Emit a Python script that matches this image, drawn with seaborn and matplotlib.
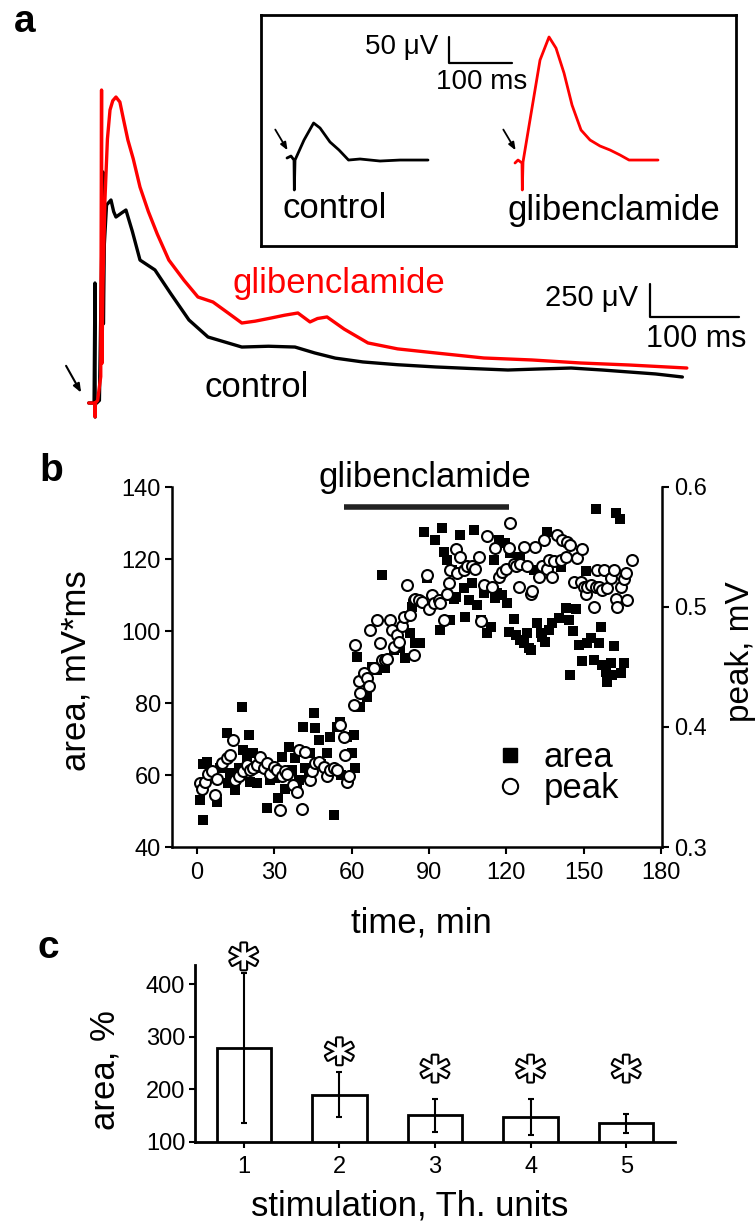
import numpy as np
import pandas as pd
import matplotlib
matplotlib.use("Agg")
import matplotlib.pyplot as plt
import seaborn as sns
from matplotlib import patheffects as pe
from matplotlib.lines import Line2D

sns.set_style("white")
plt.rcParams["font.family"] = ["Liberation Sans", "DejaVu Sans"]
plt.rcParams["text.color"] = "black"
plt.rcParams["axes.labelcolor"] = "black"
plt.rcParams["xtick.color"] = "black"
plt.rcParams["ytick.color"] = "black"

# ---------------- panel a : field potentials (ms, uV) ----------------
ctrl_t = [-7, -1, 0, 0.2, 0.5, 2, 5, 9, 9.5, 10.5, 13, 18, 21, 23.6, 30, 34.8, 42, 50.6, 67.4,
          85, 105.6, 127, 165, 195, 224.7, 247, 270, 301, 340, 383, 420, 464, 500, 535, 570,
          600, 630, 660]
ctrl_v = [0, 0, 909, -106, 0, 0, 20, 1750, 600, 1200, 1500, 1538, 1450, 1409, 1440, 1462, 1300,
          1083, 1008, 830, 629, 500, 424, 430, 424, 379, 340, 311, 290, 273, 262, 250, 258, 265,
          250, 235, 220, 197]
glib_t = [-7, -1, 0, 0.2, 0.5, 3, 6.5, 7.4, 7.8, 9, 11.2, 14, 16.9, 20, 23.6, 28, 32, 37, 43,
          50.6, 60, 70, 83, 100, 115.7, 132.6, 150, 165, 180, 198, 213, 228, 241.6, 250, 260.7,
          280, 306.7, 340, 383, 437, 491, 546, 600, 665]
glib_v = [0, 0, 0, -106, 0, 20, 200, 2371, 300, 900, 1538, 2000, 2220, 2290, 2318, 2280, 2150,
          1992, 1850, 1636, 1450, 1280, 1083, 930, 803, 765, 680, 606, 620, 644, 665, 682, 614,
          640, 652, 560, 455, 410, 379, 341, 326, 303, 288, 265]

# inset (ms, uV)
ins_ctrl_t = [-11.1, -4.8, 0, 0.5, 1.6, 15.9, 31.1, 41.3, 57.1, 71.4, 86.5, 104.8, 136.5, 168.3, 212.7]
ins_ctrl_v = [7.7, 11.5, 3.8, -53.8, 3.8, 42.3, 75, 65.4, 38.5, 23.1, 3.8, 5.8, 1.9, 3.8, 3.8]
ins_glib_t = [350.8, 355.6, 361.9, 362.4, 363.5, 374.6, 390.5, 404.8, 415.9, 428.6, 441.3, 455.6,
              469.9, 485.7, 501.6, 517.5, 531.8, 557.2, 577.8]
ins_glib_v = [-1.9, 3.8, -1.9, -53.8, 0, 80.8, 196, 240.4, 219, 171, 109.6, 61.5, 42.3, 30.8,
              23.1, 13.5, 3.8, 3.8, 3.8]

# ---------------- panel b : time course ----------------
area_t = [1.2, 2.5, 2.5, 3.8, 5, 7.6, 9, 11.5, 12.2, 12.8, 14.8, 16.1, 17.4, 18, 19.3, 20, 20.6,
          21.9, 23.2, 25, 27.1, 28.4, 30.3, 31.6, 32.9, 34, 35.5, 36.8, 38.1, 38.7, 39.4, 41.3,
          42, 43.3, 44, 45.2, 45.9, 47.2, 48, 50.4, 51.7, 53, 54.3, 55.6, 56, 58.2,
          60.1, 60.8, 61.4, 62, 63.3, 65.9, 67.9, 69.8, 71.8, 73.1, 76.3, 78.9, 80.8, 82.8, 83.4,
          84.7, 86.7, 88, 89.2, 92.5, 94.4, 95.1, 95.7, 97, 98.3, 99, 99.6, 100.3, 102.2, 103.5,
          104.1, 105.4, 106.7, 107.4, 108.7, 110, 111.3, 112.6, 113.9, 115.2, 115.8, 116.5,
          117.1, 118.4, 119.3, 120.3, 121, 121.6, 122.9, 123.6, 125.5, 125.5, 126.8, 128.1,
          128.8, 129.4, 130.7, 132, 133.3, 133.9, 135.2, 135.9, 136.5, 137.8, 140.4, 141.1, 143,
          144.3, 144.9, 145.9, 146.9, 148.2, 149.5, 150.8, 151.4, 152.7, 154, 154.9, 156, 156.6,
          157.3, 158.5, 159.2, 160.5, 161.1, 161.8, 162.4, 164, 164.4, 165.7]
area_v = [53.1, 47.5, 63, 63.7, 60, 52.6, 62, 71.6, 57.7, 60.5, 55.8, 61.9, 79.0, 67, 64.6, 71.1,
          58.1, 66, 57.7, 62, 50.7, 58.6, 59.1, 53.5, 65.1, 56, 67.9, 61.4, 64.6, 57.2, 58.6, 73.4,
          62, 59.5, 66, 77.1, 73, 69.7, 63, 66, 70.6, 48.9, 73.4, 74.8, 60, 70.6,
          66, 71.1, 61.9, 92.9, 79, 81.8, 90.1, 89.2, 115.6, 89.6, 94.7, 95.2, 92.4, 99.4, 106.8,
          96.6, 96.6, 127.6, 114.6, 125.3, 100.3, 128.5, 122, 119.7, 103.1, 116.9, 109, 109.5,
          126.7, 111.9, 104, 108.6, 113.2, 128, 107.2, 103.1, 110.5, 99.4, 101.2, 119.7, 109.1,
          110.5, 125.3, 110, 124.4, 107.7, 99.8, 121.6, 103.2, 98.9, 120.6, 97.5, 96.6, 99.4,
          95.2, 94.7, 117, 102.3, 99.4, 98.4, 97, 127.6, 100.3, 102.1, 103.5, 117.9, 106.3,
          103.1, 87.8, 100.1, 106, 96.1, 91.8, 116.7, 96.6, 98, 91.9, 133.8, 96.6, 101.2,
          90.6, 88.7, 85.9, 91, 87.8, 95.8, 132.9, 131, 88.2, 91]

peak_t = [1.2, 1.8, 3.1, 4.4, 5.7, 7.0, 7.6, 9.6, 11.5, 12.8, 14.1, 14.8, 16.1, 18.0, 19.3, 20.6,
          21.9, 23.2, 24.5, 25.8, 27.1, 28.4, 29.7, 31.0, 32.3, 32.9, 34.2, 34.8, 37.4, 38.7, 39.4,
          40.7, 42.0, 43.9, 44.6, 45.9, 47.2, 49.1, 50.4, 51.7, 53.0, 54.3, 55.6, 56.9, 57.5,
          58.2, 58.8,
          60.8, 61.4, 62.7, 63.3, 64.6, 65.9, 66.6, 67.2, 68.5, 69.8, 71.1, 71.8, 73.1, 73.7,
          75.0, 75.6, 76.3, 77.6, 78.2, 79.5, 80.2, 81.5, 82.8, 84.1, 84.1, 84.7, 86.0, 87.3,
          89.2, 89.9, 91.2, 91.8, 93.8, 94.4, 95.7, 97.0, 97.7, 98.3, 100.3, 100.9, 102.2, 103.5,
          104.8, 106.7, 108.0, 109.3, 110.0, 111.3, 112.6, 114.5, 115.8, 117.1, 118.4, 119.7,
          121.0, 121.6, 122.9, 123.6, 124.9, 125.5, 126.8, 128.1, 129.4, 130.1, 131.3, 132.6,
          133.9, 134.6, 135.9, 136.5, 137.8, 138.5, 139.8, 141.1, 141.7, 143.0, 143.7, 144.9,
          146.2, 147.5, 148.8, 149.5, 150.1, 150.8, 151.4, 152.7, 154.0, 154.7, 155.3, 156.0,
          157.3, 157.9, 159.2, 160.5, 161.8, 162.4, 163.1, 164.4, 165.7, 166.3, 167.0, 168.9]
peak_v = [0.353, 0.348, 0.354, 0.361, 0.363, 0.343, 0.357, 0.370, 0.374, 0.377, 0.389, 0.356,
          0.359, 0.363, 0.368, 0.364, 0.366, 0.368, 0.375, 0.366, 0.370, 0.361, 0.367, 0.364,
          0.331, 0.359, 0.363, 0.361, 0.352, 0.346, 0.381, 0.332, 0.379, 0.356, 0.363, 0.370,
          0.371, 0.367, 0.359, 0.364, 0.366, 0.364, 0.402, 0.392, 0.377, 0.354, 0.359,
          0.418, 0.468, 0.438, 0.428, 0.445, 0.441, 0.434, 0.481, 0.449, 0.489, 0.470, 0.456,
          0.456, 0.457, 0.489, 0.481, 0.467, 0.477, 0.471, 0.484, 0.492, 0.518, 0.493, 0.460,
          0.506, 0.507, 0.506, 0.504, 0.527, 0.498, 0.510, 0.503, 0.506, 0.503, 0.489, 0.511,
          0.520, 0.531, 0.548, 0.528, 0.542, 0.531, 0.534, 0.534, 0.532, 0.542, 0.488, 0.518,
          0.559, 0.517, 0.549, 0.525, 0.529, 0.532, 0.549, 0.570, 0.536, 0.534, 0.517, 0.536,
          0.550, 0.534, 0.511, 0.513, 0.550, 0.525, 0.534, 0.556, 0.532, 0.539, 0.525, 0.538,
          0.560, 0.539, 0.556, 0.542, 0.554, 0.552, 0.521, 0.541, 0.521, 0.548, 0.517, 0.511,
          0.517, 0.518, 0.500, 0.517, 0.531, 0.517, 0.514, 0.531, 0.516, 0.524, 0.531, 0.507,
          0.500, 0.517, 0.523, 0.528, 0.506, 0.539]

drug_start, drug_end, drug_level = 57, 121, 134.5

# ---------------- panel c : summary ----------------
stim_labels = ["1", "2", "3", "4", "5"]
area_pct = [278, 190, 150, 147, 135]
area_err = [143, 43, 32, 34, 18]
star_y = [428, 247, 214, 214, 214]

# =====================================================================
W, H = 755, 1226
fig = plt.figure(figsize=(W / 100, H / 100), dpi=100)


def px_axes(l, t, r, b):
    return fig.add_axes([l / W, 1 - b / H, (r - l) / W, (b - t) / H])


# ---------- panel a ----------
axa = px_axes(0, 0, 755, 430)
axa.set_xlim(-106.7, 741.6)
axa.set_ylim(-204.5, 3053)
axa.axis("off")
sns.lineplot(x=ctrl_t, y=ctrl_v, sort=False, estimator=None, color="black", lw=2.4, ax=axa)
sns.lineplot(x=glib_t, y=glib_v, sort=False, estimator=None, color="red", lw=2.4, ax=axa)
axa.annotate("", xy=(-14, 60), xytext=(-34, 300),
             arrowprops=dict(arrowstyle="-|>,head_length=0.5,head_width=0.2", color="black", lw=1.5))
axa.text(274, 909, "glibenclamide", color="red", fontsize=25, ha="center", va="center")
axa.text(181.5, 121, "control", color="black", fontsize=25, ha="center", va="center")
# scale bar 250 uV / 100 ms
sb_x, sb_y = 624, 654
axa.plot([sb_x, sb_x, sb_x + 100], [sb_y + 250, sb_y, sb_y], color="black", lw=1.6)
axa.text(sb_x - 14, sb_y + 140, "250 μV", fontsize=21, ha="right", va="center")
axa.text(sb_x + 52, sb_y - 170, "100 ms", fontsize=22, ha="center", va="center")

# inset
axi = px_axes(261, 15, 736, 246)
axi.set_xlim(-52.4, 701.6)
axi.set_ylim(-161.5, 282.7)
axi.set_xticks([])
axi.set_yticks([])
for s in axi.spines.values():
    s.set_visible(True)
    s.set_linewidth(2)
    s.set_color("black")
sns.lineplot(x=ins_ctrl_t, y=ins_ctrl_v, sort=False, estimator=None, color="black", lw=2, ax=axi)
sns.lineplot(x=ins_glib_t, y=ins_glib_v, sort=False, estimator=None, color="red", lw=2, ax=axi)
for x0 in (0, 362):
    axi.annotate("", xy=(x0 - 8, 18), xytext=(x0 - 32, 67),
                 arrowprops=dict(arrowstyle="-|>,head_length=0.45,head_width=0.18", color="black", lw=1.3))
isb_x, isb_y = 246, 190.4
axi.plot([isb_x, isb_x, isb_x + 100], [isb_y + 50, isb_y, isb_y], color="black", lw=1.6)
axi.text(isb_x - 17, 221, "50 μV", fontsize=20, ha="right", va="center")
axi.text(297.8, 153.8, "100 ms", fontsize=20, ha="center", va="center")
axi.text(65, -88.5, "control", fontsize=25, ha="center", va="center")
axi.text(508, -92.3, "glibenclamide", fontsize=25, ha="center", va="center")

# ---------- panel b ----------
axb = px_axes(172, 487, 662, 847)
axb2 = axb.twinx()
sns.scatterplot(x=area_t, y=area_v, marker="s", color="black", s=58, linewidth=0, ax=axb, zorder=3)
sns.scatterplot(x=peak_t, y=peak_v, marker="o", color="white", edgecolor="black", s=62,
                linewidth=1.5, ax=axb2, zorder=3)
axb.set_xlim(-9.7, 180.4)
axb.set_ylim(40, 140)
axb2.set_ylim(0.3, 0.6)
axb.set_xticks([0, 30, 60, 90, 120, 150, 180])
axb.set_yticks([40, 60, 80, 100, 120, 140])
axb2.set_yticks([0.3, 0.4, 0.5, 0.6])
axb2.set_yticklabels(["0.3", "0.4", "0.5", "0.6"])
for a in (axb, axb2):
    for s in a.spines.values():
        s.set_linewidth(1.8)
        s.set_color("black")
    a.spines["top"].set_visible(False)
axb.spines["right"].set_visible(False)
axb2.spines["left"].set_visible(False)
axb2.spines["bottom"].set_visible(False)
axb.tick_params(axis="both", direction="out", length=5, width=1.5, labelsize=17, colors="black")
axb.tick_params(axis="x", pad=6)
axb.tick_params(axis="y", pad=3, left=True)
axb.tick_params(axis="x", bottom=True)
axb2.tick_params(axis="y", direction="out", length=5, width=1.5, labelsize=17, pad=4, right=True,
                 colors="black")
axb.set_xlabel("time, min", fontsize=25)
axb.set_ylabel("area, mV*ms", fontsize=25)
axb2.set_ylabel("peak, mV", fontsize=24, rotation=90)
axb.xaxis.set_label_coords(0.508, -0.165)
axb.yaxis.set_label_coords(-0.163, 0.49)
axb2.yaxis.set_label_coords(1.128, 0.544)
axb.plot([drug_start, drug_end], [drug_level, drug_level], color="#222222", lw=4,
         solid_capstyle="butt", clip_on=False)
axb.text((drug_start + drug_end) / 2 - 0.5, 142.6, "glibenclamide", fontsize=25,
         ha="center", va="center")
handles = [Line2D([], [], marker="s", color="black", ls="none", markersize=10),
           Line2D([], [], marker="o", markerfacecolor="white", markeredgecolor="black",
                  markeredgewidth=1.5, ls="none", markersize=11)]
axb2.legend(handles, ["area", "peak"], loc="center left", bbox_to_anchor=(0.655, 0.205),
            frameon=False, fontsize=25, handlelength=1.0, handletextpad=0.45,
            labelspacing=-0.05, borderpad=0, borderaxespad=0)

# ---------- panel c ----------
axc = px_axes(195, 965, 675, 1141.7)
dfc = pd.DataFrame({"stim": stim_labels, "area": area_pct})
sns.barplot(data=dfc, x="stim", y="area", color="white", edgecolor="black", linewidth=2,
            width=0.57, errorbar=None, ax=axc)
axc.errorbar(range(len(stim_labels)), area_pct, yerr=area_err, fmt="none", ecolor="black",
             elinewidth=1.5, capsize=2, capthick=1.5)
for i, y in enumerate(star_y):
    axc.text(i, y, "*", fontsize=40, fontweight="bold", color="white", ha="center",
             va="center", family="DejaVu Sans", clip_on=False,
             path_effects=[pe.withStroke(linewidth=3, foreground="black")])
axc.set_ylim(100, 437)
axc.set_xlim(-0.51, 4.51)
axc.set_yticks([100, 200, 300, 400])
for s in ("top", "right"):
    axc.spines[s].set_visible(False)
for s in ("left", "bottom"):
    axc.spines[s].set_linewidth(2)
    axc.spines[s].set_color("black")
axc.tick_params(axis="both", direction="out", length=4, width=1.5, labelsize=17, colors="black")
axc.tick_params(axis="x", pad=6, bottom=True)
axc.tick_params(axis="y", pad=3, left=True)
axc.set_xlabel("stimulation, Th. units", fontsize=25)
axc.set_ylabel("area, %", fontsize=25)
axc.xaxis.set_label_coords(0.448, -0.27)
axc.yaxis.set_label_coords(-0.154, 0.406)

# panel letters
fig.text(25 / W, 1 - 22 / H, "a", fontsize=28, fontweight="bold", ha="center", va="center")
fig.text(51 / W, 1 - 471 / H, "b", fontsize=28, fontweight="bold", ha="center", va="center")
fig.text(48 / W, 1 - 948 / H, "c", fontsize=28, fontweight="bold", ha="center", va="center")

fig.savefig("out.png", dpi=100)
